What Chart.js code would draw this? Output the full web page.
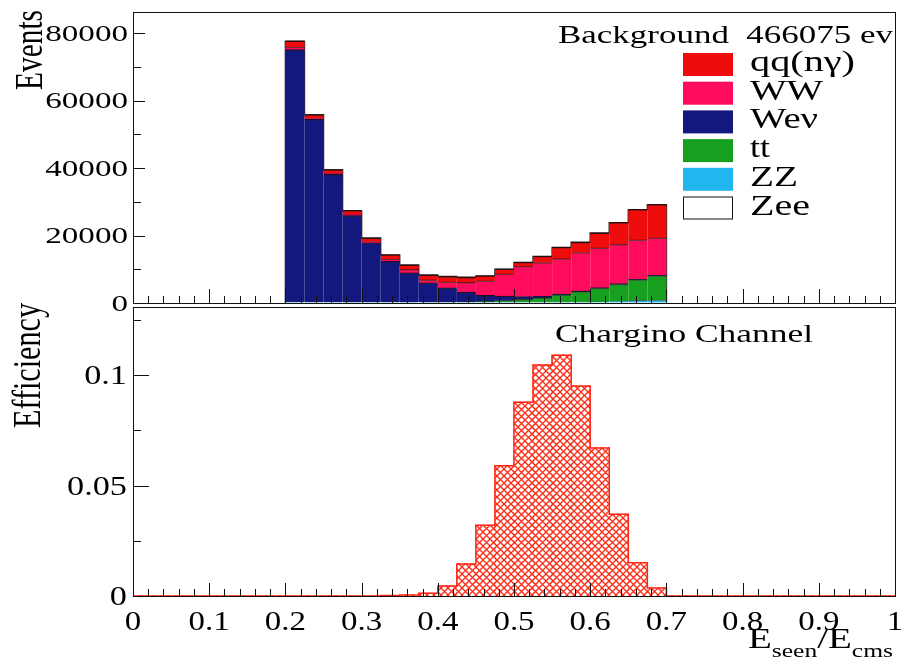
<!DOCTYPE html>
<html>
<head>
<meta charset="utf-8">
<script src="https://cdn.jsdelivr.net/npm/chart.js@4.4.1/dist/chart.umd.min.js"></script>
<style>
    body { margin: 0; background: #fff; }
    #wrap { position: relative; width: 906px; height: 671px; }
    #wrap canvas { position: absolute; left: 0; top: 0; }
</style>
</head>
<body>
<div id="wrap">
    <canvas id="effChart" width="906" height="671"></canvas>
    <canvas id="bkgChart" width="906" height="671"></canvas>
</div>
<script>
// background histograms, 0.025 wide bins from 0.2 to 0.7
var bkgBinLow = [0.2, 0.225, 0.25, 0.275, 0.3, 0.325, 0.35, 0.375, 0.4, 0.425,
                 0.45, 0.475, 0.5, 0.525, 0.55, 0.575, 0.6, 0.625, 0.65, 0.675];
var qqEvents   = [1800, 1200, 1100, 1100, 1100, 1300, 1400, 1500, 1600, 1600,
                  1500, 1500, 1200, 1900, 3400, 3100, 4500, 6500, 9000, 9900];
var wwEvents   = [800, 200, 300, 400, 400, 700, 1000, 900, 1800, 2900,
                  4350, 6600, 9000, 10000, 10500, 11400, 11800, 11700, 11800, 11200];
var wenuEvents = [74900, 54300, 38000, 25800, 17700, 12200, 8800, 5800, 4300, 2900,
                  1800, 1300, 800, 400, 200, 120, 80, 60, 40, 30];
var ttEvents   = [0, 0, 0, 0, 0, 0, 30, 60, 100, 200,
                  350, 600, 1000, 1450, 2280, 3220, 4120, 5060, 6150, 7240];
var zzEvents   = [150, 120, 100, 80, 60, 50, 40, 40, 30, 30,
                  30, 40, 40, 50, 100, 150, 250, 500, 700, 800];
var zeeEvents  = [0, 0, 0, 0, 0, 0, 0, 0, 0, 0,
                  0, 0, 0, 0, 0, 0, 0, 0, 0, 0];

// signal efficiency, 40 bins over 0..1
var effBinLow = [0, 0.025, 0.05, 0.075, 0.1, 0.125, 0.15, 0.175, 0.2, 0.225,
                 0.25, 0.275, 0.3, 0.325, 0.35, 0.375, 0.4, 0.425, 0.45, 0.475,
                 0.5, 0.525, 0.55, 0.575, 0.6, 0.625, 0.65, 0.675, 0.7, 0.725,
                 0.75, 0.775, 0.8, 0.825, 0.85, 0.875, 0.9, 0.925, 0.95, 0.975];
var efficiency = [0, 0, 0, 0, 0, 0, 0, 0, 0, 0,
                  0, 0, 0, 0.0002, 0.0004, 0.0012, 0.0045, 0.0145, 0.032, 0.059,
                  0.0877, 0.1045, 0.109, 0.095, 0.067, 0.037, 0.015, 0.0036, 0, 0,
                  0, 0, 0, 0, 0, 0, 0, 0, 0, 0];

var BIN = 0.025;
var bkgYTicks = [0, 20000, 40000, 60000, 80000];
var effYTicks = [0, 0.05, 0.1];
var effYLabels = ['0', '0.05', '0.1'];
var xTicks = [0, 0.1, 0.2, 0.3, 0.4, 0.5, 0.6, 0.7, 0.8, 0.9, 1];
var xLabels = ['0', '0.1', '0.2', '0.3', '0.4', '0.5', '0.6', '0.7', '0.8', '0.9', '1'];

var legendItems = [
    { label: 'qq(n\u03b3)', color: '#ee0c0c', width: 105 },
    { label: 'WW',          color: '#ff0c5c', width: 73 },
    { label: 'We\u03bd',    color: '#12187e', width: 68 },
    { label: 'tt',          color: '#17a020', width: 20 },
    { label: 'ZZ',          color: '#22b6ee', width: 48 },
    { label: 'Zee',         color: '#ffffff', width: 60 }
];

var SERIF = '"Liberation Serif", "Times New Roman", serif';
var W = 906, H = 671;
var FRAME_L = 133, FRAME_R = 895;
var TOP_T = 12, TOP_B = 303;
var BOT_T = 307, BOT_B = 596;

function centers(low) {
    return low.map(function(v) { return v + BIN / 2; });
}

function points(xs, ys) {
    return xs.map(function(x, i) { return { x: x, y: ys[i] }; });
}

// step outline: each value holds from its lower edge to the next one
function stepPoints(low, ys) {
    var last = low.length - 1;
    var pts = [{ x: low[0], y: 0 }];
    low.forEach(function(x, i) {
        pts.push({ x: x, y: ys[i] });
    });
    pts.push({ x: low[last] + BIN, y: ys[last] });
    pts.push({ x: low[last] + BIN, y: 0 });
    return pts;
}

function stretchText(ctx, str, x, y, size, sx, align) {
    ctx.save();
    ctx.font = size + 'px ' + SERIF;
    ctx.fillStyle = '#000';
    ctx.textAlign = align || 'left';
    ctx.textBaseline = 'alphabetic';
    ctx.translate(x, y);
    ctx.scale(sx, 1);
    ctx.fillText(str, 0, 0);
    ctx.restore();
}

// fit a string horizontally into a given width
function fitText(ctx, str, x, y, size, width, align) {
    ctx.font = size + 'px ' + SERIF;
    var sx = width / ctx.measureText(str).width;
    stretchText(ctx, str, x, y, size, sx, align);
}

// rotated axis title, text ends at (x, yEnd) and runs downwards over `length`
function axisTitle(ctx, str, x, yEnd, size, length, thick) {
    ctx.save();
    ctx.font = size + 'px ' + SERIF;
    var sx = length / ctx.measureText(str).width;
    ctx.translate(x, yEnd);
    ctx.rotate(-Math.PI / 2);
    ctx.scale(sx, thick);
    ctx.fillStyle = '#000';
    ctx.textAlign = 'right';
    ctx.fillText(str, 0, 0);
    ctx.restore();
}

function frame(ctx, area) {
    ctx.save();
    ctx.strokeStyle = '#111';
    ctx.lineWidth = 1;
    ctx.strokeRect(Math.round(area.left) + 0.5, Math.round(area.top) + 0.5,
                   Math.round(area.right - area.left), Math.round(area.bottom - area.top));
    ctx.restore();
}

function drawXTicks(ctx, scale, yBase, majorLen, minorLen) {
    ctx.save();
    ctx.strokeStyle = '#111';
    ctx.lineWidth = 1;
    ctx.beginPath();
    for (var i = 0; i <= 50; i++) {
        var px = Math.round(scale.getPixelForValue(i / 50)) + 0.5;
        var len = (i % 5 === 0) ? majorLen : minorLen;
        ctx.moveTo(px, yBase);
        ctx.lineTo(px, yBase - len);
    }
    ctx.stroke();
    ctx.restore();
}

function drawYTicks(ctx, scale, xBase, step, majorEvery, max, majorLen, minorLen) {
    ctx.save();
    ctx.strokeStyle = '#111';
    ctx.lineWidth = 1;
    ctx.beginPath();
    for (var i = 0; i * step <= max; i++) {
        var py = Math.round(scale.getPixelForValue(i * step)) + 0.5;
        var len = (i % majorEvery === 0) ? majorLen : minorLen;
        ctx.moveTo(xBase, py);
        ctx.lineTo(xBase + len, py);
    }
    ctx.stroke();
    ctx.restore();
}

var bkgDecor = {
    id: 'bkgDecor',
    afterDraw: function(chart) {
        var ctx = chart.ctx, area = chart.chartArea;
        var xs = chart.scales.x, ys = chart.scales.y;

        frame(ctx, area);
        drawXTicks(ctx, xs, area.bottom, 14, 7);
        drawYTicks(ctx, ys, area.left, 10000, 2, 86000, 12, 8);

        bkgYTicks.forEach(function(v) {
            stretchText(ctx, String(v), 128, ys.getPixelForValue(v) + 7.8, 23, 1.44, 'right');
        });
        axisTitle(ctx, 'Events', 42, 10, 29, 80, 1.35);

        fitText(ctx, 'Background  466075 ev', 558, 43, 25, 335, 'left');

        // legend boxes and labels
        legendItems.forEach(function(item, i) {
            var top = 53 + i * 28.7;
            ctx.save();
            ctx.fillStyle = item.color;
            ctx.fillRect(683, top, 50, 23);
            if (item.color === '#ffffff') {
                ctx.strokeStyle = '#111';
                ctx.strokeRect(683.5, top + 0.5, 49, 22);
            }
            ctx.restore();
            fitText(ctx, item.label, 750, top + 18, 29, item.width, 'left');
        });
    }
};

var effDecor = {
    id: 'effDecor',
    afterDraw: function(chart) {
        var ctx = chart.ctx, area = chart.chartArea;
        var xs = chart.scales.x, ys = chart.scales.y;

        frame(ctx, area);
        drawXTicks(ctx, xs, area.bottom, 13, 7);
        drawYTicks(ctx, ys, area.left, 0.025, 2, 0.13, 16, 8);

        effYTicks.forEach(function(v, i) {
            stretchText(ctx, effYLabels[i], 127, ys.getPixelForValue(v) + 9, 27, 1.27, 'right');
        });
        xTicks.forEach(function(v, i) {
            stretchText(ctx, xLabels[i], xs.getPixelForValue(v), 630, 27, 1.22, 'center');
        });
        axisTitle(ctx, 'Efficiency', 40, 303, 30, 125, 1.3);

        fitText(ctx, 'Chargino Channel', 555, 342, 26, 258, 'left');

        // x title with subscripts, right aligned to the frame
        var parts = [
            { t: 'E', size: 29, dy: 0 },
            { t: 'seen', size: 19, dy: 9 },
            { t: '/E', size: 29, dy: 0 },
            { t: 'cms', size: 19, dy: 9 }
        ];
        var total = 0;
        parts.forEach(function(p) {
            ctx.font = p.size + 'px ' + SERIF;
            p.w = ctx.measureText(p.t).width;
            total += p.w;
        });
        var sx = (893 - 748) / total, x = 748;
        parts.forEach(function(p) {
            stretchText(ctx, p.t, x, 648 + p.dy, p.size, sx, 'left');
            x += p.w * sx;
        });
    }
};

function baseOptions(padding, yMax, stacked) {
    return {
        responsive: false,
        animation: false,
        events: [],
        layout: { padding: padding },
        plugins: { legend: { display: false }, tooltip: { enabled: false } },
        scales: {
            x: { type: 'linear', min: 0, max: 1, offset: false, grid: { offset: false },
                 display: false, stacked: stacked },
            y: { type: 'linear', min: 0, max: yMax, display: false, stacked: stacked }
        }
    };
}

function barSet(label, data, color, edge) {
    return {
        type: 'bar',
        label: label,
        data: points(centers(bkgBinLow), data),
        backgroundColor: color,
        borderColor: edge,
        borderWidth: { top: 1.5, left: 0, right: 0, bottom: 0 },
        borderSkipped: false,
        inflateAmount: 0.6,
        barPercentage: 1,
        categoryPercentage: 1
    };
}

// top pad: stacked backgrounds, drawn bottom to top
var totals = bkgBinLow.map(function(_, i) {
    return qqEvents[i] + wwEvents[i] + wenuEvents[i] + ttEvents[i] + zzEvents[i] + zeeEvents[i];
});

new Chart(document.getElementById('bkgChart').getContext('2d'), {
    data: {
        datasets: [
            barSet('Zee', zeeEvents, '#ffffff', 'rgba(0,0,0,0)'),
            barSet('ZZ', zzEvents, '#22b6ee', 'rgba(20,60,90,0.6)'),
            barSet('tt', ttEvents, '#17a020', 'rgba(10,50,10,0.8)'),
            barSet('We\u03bd', wenuEvents, '#12187e', 'rgba(5,5,40,0.9)'),
            barSet('WW', wwEvents, '#ff0c5c', 'rgba(90,0,20,0.8)'),
            barSet('qq(n\u03b3)', qqEvents, '#ee0c0c', 'rgba(40,10,10,0.9)'),
            {
                type: 'line',
                label: 'total',
                stack: 'outline',
                data: stepPoints(bkgBinLow, totals),
                stepped: 'before',
                borderColor: 'rgba(30,10,10,0.85)',
                borderWidth: 1.5,
                pointRadius: 0,
                fill: false
            }
        ]
    },
    options: baseOptions({ left: FRAME_L, right: W - FRAME_R, top: TOP_T, bottom: H - TOP_B }, 86300, true),
    plugins: [bkgDecor]
});

// bottom pad: hatched efficiency histogram
var effCtx = document.getElementById('effChart').getContext('2d');
var tile = document.createElement('canvas');
tile.width = 7;
tile.height = 7;
var tctx = tile.getContext('2d');
tctx.strokeStyle = '#ff2a14';
tctx.lineWidth = 1.3;
tctx.beginPath();
tctx.moveTo(0, 0); tctx.lineTo(7, 7);
tctx.moveTo(7, 0); tctx.lineTo(0, 7);
tctx.stroke();
var hatch = effCtx.createPattern(tile, 'repeat');

new Chart(effCtx, {
    data: {
        datasets: [
            {
                type: 'bar',
                label: 'Chargino',
                data: points(centers(effBinLow), efficiency),
                backgroundColor: hatch,
                borderWidth: 0,
                inflateAmount: 0.6,
                barPercentage: 1,
                categoryPercentage: 1
            },
            {
                type: 'line',
                label: 'outline',
                data: stepPoints(effBinLow, efficiency),
                stepped: 'before',
                borderColor: '#ff2010',
                borderWidth: 1.5,
                pointRadius: 0,
                fill: false
            }
        ]
    },
    options: baseOptions({ left: FRAME_L, right: W - FRAME_R, top: BOT_T, bottom: H - BOT_B }, 0.1308, false),
    plugins: [effDecor]
});
</script>
</body>
</html>
